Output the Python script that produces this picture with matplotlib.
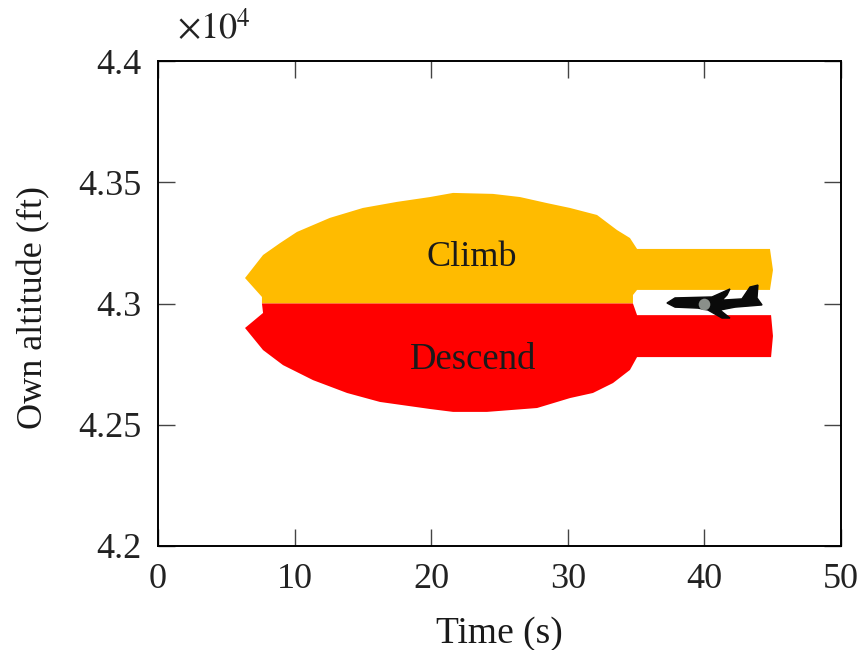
import matplotlib
matplotlib.use("Agg")
import matplotlib.pyplot as plt
from matplotlib.patches import Polygon

plt.rcParams['font.family'] = ['Liberation Serif', 'DejaVu Serif']
plt.rcParams['mathtext.fontset'] = 'stix'

# time (s) / altitude (ft) outlines
climb_t = [7.61, 7.61, 6.37, 7.69, 8.93, 10.17, 12.58, 15.0, 17.49, 19.91, 21.6, 24.52, 26.5,
           28.48, 30.16, 32.14, 33.6, 34.55, 35.07, 44.8, 45.02, 44.8, 35.07, 34.77, 34.77]
climb_alt = [43000, 43027, 43105, 43200, 43249, 43295, 43353, 43394, 43419, 43439, 43456, 43452, 43439,
             43414, 43394, 43365, 43303, 43270, 43225, 43225, 43138, 43056, 43056, 43035, 43000]

descend_t = [7.61, 7.69, 6.37, 7.69, 9.15, 11.35, 13.84, 16.25, 19.91, 21.6, 24.08, 27.75,
             30.16, 31.84, 33.31, 34.55, 35.07, 44.88, 45.02, 44.88, 35.07, 34.77]
descend_alt = [43000, 42961, 42899, 42808, 42746, 42684, 42631, 42594, 42565, 42553, 42553, 42569,
               42610, 42631, 42672, 42726, 42779, 42779, 42866, 42952, 42952, 43000]

plane_t = [37.26, 37.85, 40.56, 41.87, 41.65, 41.29, 42.75, 43.34, 43.92, 43.85, 44.22, 42.24,
           41.14, 41.87, 41.29, 40.26, 39.53, 37.85]
plane_alt = [43002, 43023, 43027, 43060, 43035, 43014, 43019, 43068, 43076, 43023, 42994, 42985,
             42973, 42940, 42940, 42973, 42981, 42985]

xticks = [0, 10, 20, 30, 40, 50]
yticks = [42000, 42500, 43000, 43500, 44000]
ylabels = ["4.2", "4.25", "4.3", "4.35", "4.4"]

fig = plt.figure(figsize=(8.61, 6.5), dpi=100)
ax = fig.add_axes([158 / 861, 1 - 546 / 650, 683 / 861, 485 / 650])

ax.add_patch(Polygon(list(zip(climb_t, climb_alt)), closed=True, fc='#ffbb00', ec='none'))
ax.add_patch(Polygon(list(zip(descend_t, descend_alt)), closed=True, fc='#ff0000', ec='none'))
ax.add_patch(Polygon(list(zip(plane_t, plane_alt)), closed=True, fc='#0a0a0a', ec='#0a0a0a', lw=1, zorder=3))
ax.scatter([39.97], [42998], s=70, c='#8a8f8a', zorder=4, linewidths=0)

ax.text(23.0, 43190, "Climb", fontsize=26, ha='center', va='center', color='#1a1a1a')
ax.text(23.06, 42770, "Descend", fontsize=26.5, ha='center', va='center', color='#1a1a1a')

ax.set_xlim(0, 50)
ax.set_ylim(42000, 44000)
ax.set_xticks(xticks)
ax.set_yticks(yticks)
ax.set_yticklabels(ylabels)
ax.tick_params(direction='in', top=True, right=True, length=12, width=1, color='#444444',
               labelsize=26, labelcolor='#222222', pad=12)
for s in ax.spines.values():
    s.set_linewidth(1.4)

ax.set_xlabel("Time (s)", fontsize=27, color='#1a1a1a')
ax.xaxis.set_label_coords(0.5, -0.146)
ax.set_ylabel("Own altitude (ft)", fontsize=26, color='#1a1a1a')
ax.yaxis.set_label_coords(-0.158, 0.491)
ax.text(214 / 861, 1 - 30 / 650, r"$\times 10^4$", fontsize=26, ha='center', va='center',
        transform=fig.transFigure, color='#222222')

fig.savefig("out.png", dpi=100)
